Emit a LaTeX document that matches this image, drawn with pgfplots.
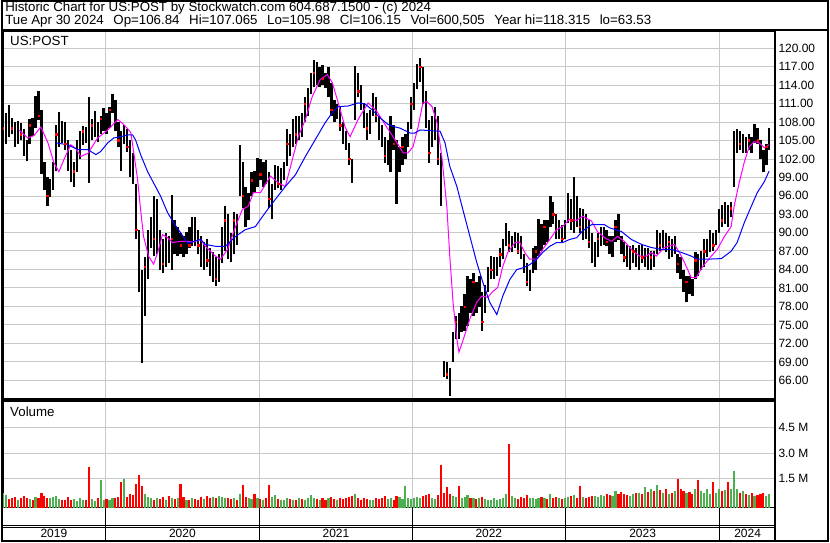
\documentclass[border=0pt]{standalone}
\usepackage{pgfplots}
\pgfplotsset{compat=1.18}
\usepackage{pgfplotstable}
\usepackage{fontspec}
\setmainfont{Liberation Sans}
\definecolor{gridgray}{RGB}{200,200,200}
\definecolor{volgreen}{RGB}{76,175,80}
\definecolor{volred}{RGB}{255,0,0}
\definecolor{maMag}{RGB}{255,0,255}
\definecolor{maBlue}{RGB}{0,0,255}

% weekly price bars: week, low, high, close
\pgfplotstableread{
w lo hi c
0 101.5 111.9 107
1 104.5 109.5 108
2 105.5 110.8 107.5
3 106 108.6 107
4 104 108 105
5 104.5 108.2 107.5
6 105 107.8 106
7 102.5 106.8 103.5
8 101.6 105 102.5
9 104.5 108.5 107.5
10 105.8 108.7 106.5
11 107 112.3 111
12 108.4 113 109
13 99.5 110 101
14 97 101.5 98
15 94.3 99 96
16 95.8 98.8 97.5
17 97 101.5 100.5
18 100 107.5 106
19 104 109.7 107
20 104.6 108.2 105.5
21 103.5 108 104.5
22 100 105 101
23 98.3 103.5 99
24 97.5 101.5 100
25 99.8 105 104
26 102 106.5 105
27 104.3 107.3 106.5
28 104.6 107.2 105.5
29 98.1 112.1 104
30 105 108.5 107.5
31 105.5 109.8 108
32 104.8 108 106
33 106 109 108.5
34 106.5 110.2 109
35 106 109.5 107.5
36 107 110.5 110
37 109.5 112.6 111.5
38 106.5 111.5 107.5
39 104 108 105
40 100 106.5 104
41 104.5 107.5 106.5
42 103.2 106.8 104
43 99 105 100.5
44 98 103 99
45 89 98 90.5
46 80.3 90.5 82
47 68.9 84 76
48 76.5 86 84.5
49 82.5 90.5 89
50 87.5 92.5 90
51 86.2 96 89
52 86.5 95.5 93
53 84 90.5 86.5
54 83.5 89 85
55 84.5 90 88.5
56 85 89.5 87
57 84 96.2 89
58 86.5 92 88
59 86.2 91 88.5
60 86.5 90 88
61 86 89.5 87.5
62 86.5 90.2 89
63 87.5 91 88
64 87.8 92.5 91
65 87.8 92.5 89
66 86.5 90.5 88
67 84.5 89.4 86
68 84 88.5 87.5
69 84.5 89 85.5
70 83 87.5 84
71 82 86.8 85.5
72 81.3 86 82.5
73 82 86.5 85
74 85 91 90
75 87 94.3 92
76 85.7 93 88
77 85.2 90 86.5
78 86.5 93.3 92
79 88 93 90.5
80 95.9 104.3 101
81 94 101.5 96
82 91 97.5 93
83 92 96.5 95.5
84 95.9 99.8 98.5
85 96.5 100 97
86 97.5 102.2 101
87 98.5 102 99.5
88 97.5 101.5 100.5
89 98 101.8 99
90 94 99.8 95.5
91 92.2 98 97
92 97 101 99.5
93 97.2 100.8 98
94 97 100.5 99.5
95 98.5 101.5 100
96 100.8 106.8 104.5
97 102.5 106 103
98 104 108.5 107
99 104.5 109 106
100 105 108.9 108
101 105.5 109.5 107.5
102 108 112 111
103 109 113.5 112.5
104 112.5 116 115
105 113.7 118 116
106 114 117.8 115
107 113.7 117 116.5
108 114 117.2 115
109 113.5 116 114.5
110 112 117 115
111 108.9 114.4 110
112 108 111.5 109
113 108.5 111 110
114 106.5 110.5 107.5
115 104.5 108 105.5
116 103.5 106.5 104.5
117 101 104.6 102
118 98.1 102 99
119 108.4 117.1 115
120 112 116 113
121 110 114 111
122 107 111.1 108
123 105.1 109.5 107
124 106 110 108.5
125 109 112.7 111
126 108 112 109
127 105 108.9 106
128 104 107.5 105
129 101.4 105.6 102.5
130 101 105 104
131 99.8 108.9 105
132 103.5 107.5 104.5
133 94.6 105.1 98
134 99.8 104 102
135 101 105.6 104
136 102 106 105
137 104 108 107
138 106.8 112 111
139 110 114.4 113.5
140 113.3 117.5 116
141 114.5 118.4 117
142 111 117 112
143 107 113 108
144 101.4 108.4 103
145 104 109 108
146 105.1 110.5 109.5
147 101 109 102
148 94.3 103 96
149 66.6 69.2 67.5
150 66.2 69 67
151 63.53 68 66.5
152 69 73.8 72
153 72.7 76.5 75.5
154 72.7 77 74
155 73.8 78.1 76
156 74 80 78
157 74.9 83 81.5
158 77 82.5 80
159 76.5 83.5 82
160 77 82 78.5
161 78 83 81
162 74 80.3 75.5
163 77 81.5 80.5
164 80.3 84.5 83.5
165 82.4 86.2 84
166 82.5 86 85
167 83 86 85.5
168 84.5 87.5 86.5
169 85.7 89 88.5
170 87.8 91.6 90
171 86.8 90.3 88
172 86.8 89.5 88.5
173 87.5 90.2 89
174 86.5 90 87
175 85.7 89.5 86.5
176 83.5 86.5 84
177 81.3 85 82
178 80.5 84 83
179 83.5 87.5 86
180 84 87.8 87
181 86.2 92.2 90.5
182 87 91.5 88
183 88 92 91
184 88.5 92 90
185 91 95.9 94
186 91.5 95 93
187 89 93 90.5
188 89 92 91
189 88.5 91.3 89
190 89 92 91
191 91.6 96.5 95
192 90.5 95.5 92
193 90 99 94
194 91 96 93.5
195 90 94 91
196 88.9 93.8 92.5
197 89 93 90
198 87.5 92 88.5
199 85 90 86
200 84.5 88.5 87
201 86 90 89
202 87.8 91 89.5
203 88 91 90
204 87.8 90.5 88.5
205 86.5 89.5 87
206 86 89.5 88
207 88.5 92 91
208 88.9 93 90
209 86.5 89.5 87
210 85.2 88.5 86
211 84.5 88 85
212 84 87.8 86.5
213 85 88 87
214 84.5 87.5 85.5
215 84 88 86.5
216 85 88 86
217 84.5 87.5 87
218 84 87.5 85
219 84 87 86
220 84.5 87 85
221 86.5 90.5 89.5
222 87 90 88
223 87.5 90.5 90
224 86.8 90 87.5
225 85.7 89.5 88.5
226 86 89 86.5
227 86.5 89.5 88
228 83.5 86.5 85
229 82.5 86 83
230 80.3 84 81
231 78.7 83 82
232 80 83 81
233 79.7 82.4 80.5
234 82.4 86.8 85.5
235 83 86.5 84
236 84 87 86.5
237 84.5 89 87
238 86 89 88
239 86.8 90.5 89.5
240 87 90 88
241 88 90.5 90
242 90 93.8 93
243 91 94.5 92
244 91.5 95 94.5
245 91 94.5 92.5
246 92.5 95 94
247 97.4 106.5 104
248 103 106.8 105
249 103.5 106.5 104.5
250 103 106 105.5
251 103 105.5 104
252 103.5 106 105
253 103 105.5 104
254 104.6 107.6 106.5
255 104.5 107 105
256 102 105 103
257 99.8 103.5 101
258 101 104.5 104
259 103.5 107.065 106.15
}\price

\pgfplotstableread{
w v
5.4 106.7
8.4 105.4
10.5 105.8
12.8 107.2
15.2 104.6
17.2 101.4
18.9 99.9
20.6 101.9
22.9 104.3
24.6 103.7
26.3 102.4
28.7 102.9
32.0 105.4
35.4 106.7
38.8 108.4
40.8 107.6
43.2 106.3
44.2 103.0
45.5 98.6
46.5 93.8
47.5 89.4
49.2 86.2
50.9 84.9
52.3 86.8
53.9 89.7
55.6 89.2
57.3 88.4
60.0 88.6
62.4 88.6
64.4 88.5
66.8 88.9
68.4 87.8
71.8 86.2
73.5 85.7
75.9 87.3
78.6 91.0
80.9 93.8
82.9 94.3
84.6 96.5
87.0 96.5
90.4 99.2
93.1 98.1
95.4 97.5
97.8 101.9
99.8 105.6
102.2 108.4
104.5 112.1
107.2 114.9
109.6 115.7
111.3 114.4
113.3 111.1
115.6 107.2
117.3 105.6
120.0 108.4
123.4 111.1
126.4 109.7
129.1 107.6
132.5 105.1
133.2 104.6
135.2 103.0
136.9 103.0
138.6 104.0
140.3 107.2
141.9 111.1
143.3 111.3
145.0 110.5
146.7 107.9
148.3 102.4
150.0 94.3
151.0 86.2
152.1 78.7
153.4 72.7
154.1 70.6
155.4 72.4
157.8 76.0
160.1 78.7
161.8 79.7
163.9 79.5
165.2 80.3
167.2 81.1
168.9 84.5
170.6 86.8
173.0 88.4
174.6 88.5
176.3 86.8
178.0 85.7
180.4 85.7
182.4 87.3
184.8 88.9
187.1 90.5
189.1 91.0
191.5 92.2
193.9 92.0
195.9 92.7
198.9 91.9
200.9 90.2
203.3 89.2
205.7 88.6
207.7 89.4
210.0 88.6
212.4 87.3
215.1 86.2
217.5 86.2
219.1 86.8
220.8 86.2
223.5 87.6
226.9 88.1
228.6 86.8
230.3 85.2
232.6 82.7
234.3 82.7
236.3 84.4
239.4 86.2
241.4 87.3
243.8 89.4
246.1 91.0
247.1 94.3
248.8 98.1
250.5 101.4
252.2 104.0
253.9 104.8
255.6 104.6
257.3 103.8
258.9 104.3
}\maShort

\pgfplotstableread{
w v
17.9 104.6
21.9 104.3
25.3 103.5
28.7 103.5
31.4 102.7
33.0 103.2
35.4 104.6
37.4 105.4
39.8 105.6
42.1 105.9
43.8 105.9
44.8 105.1
46.5 102.7
48.9 99.9
50.9 98.1
53.3 95.9
55.6 93.3
57.7 91.6
60.0 90.0
62.4 88.3
64.4 88.6
66.8 88.9
68.4 88.1
71.8 87.8
75.2 87.8
78.6 89.4
81.9 90.5
85.3 91.0
88.7 93.3
92.0 95.4
95.4 97.5
98.8 99.4
102.2 102.4
105.5 105.1
108.9 107.9
111.3 109.5
113.3 110.5
116.7 110.6
120.0 111.1
122.4 110.9
124.7 110.0
127.4 108.7
130.1 107.6
132.5 107.2
134.2 107.0
137.6 106.2
139.2 106.2
140.9 106.7
144.3 106.6
147.7 106.5
149.4 104.6
151.0 100.8
153.4 97.5
155.4 93.8
157.8 89.4
160.1 85.2
162.2 81.9
164.5 78.7
166.9 76.7
168.9 79.7
171.3 82.4
173.6 84.0
175.7 84.3
178.0 84.8
180.4 85.7
182.4 86.8
184.8 87.8
187.1 88.4
189.1 88.4
191.5 88.9
193.9 89.2
195.9 90.3
198.9 91.3
203.3 91.3
205.0 90.8
209.0 90.2
212.4 88.9
215.8 88.1
219.1 87.6
222.5 87.3
225.9 87.3
229.3 86.8
232.6 86.2
234.7 85.7
238.0 85.7
242.8 85.8
246.1 87.0
248.1 88.4
250.5 91.6
252.9 94.3
254.9 96.5
257.3 98.3
258.9 100.0
}\maLong

% weekly volume (millions) on up weeks
\pgfplotstableread{
w v
0 0.7
1 0.55
5 0.28
9 0.3
11 0.42
16 0.35
17 0.42
18 0.5
19 0.3
24 0.3
25 0.2
26 0.35
27 0.25
30 0.3
31 0.2
33 1.45
34 0.28
36 0.28
37 0.38
41 1.5
48 0.63
49 0.42
50 0.38
52 0.35
55 0.28
57 0.35
59 0.35
62 0.28
64 0.35
68 0.3
71 0.42
73 0.5
74 0.45
75 0.35
78 0.35
80 0.6
83 0.35
84 0.3
86 0.38
88 0.28
91 0.42
92 0.55
94 0.28
95 0.25
96 0.38
98 0.28
100 0.35
102 0.28
103 0.38
104 0.55
105 0.35
107 0.28
110 0.35
113 0.28
119 0.63
124 0.28
125 0.25
130 0.3
131 0.35
134 0.42
135 0.3
136 1.1
137 0.35
138 0.3
139 0.38
140 0.42
141 0.35
145 0.35
146 0.3
152 0.5
153 0.42
155 0.38
156 0.42
157 0.55
159 0.38
161 0.35
163 0.3
164 0.28
165 0.25
166 0.35
167 0.28
168 0.3
169 0.35
170 0.63
172 0.5
173 0.35
178 0.38
179 0.35
180 0.3
181 0.38
183 0.35
185 0.63
188 0.35
190 0.35
191 0.42
193 0.55
196 0.42
200 0.5
201 0.45
202 0.55
203 0.5
206 0.5
207 0.8
212 0.5
213 0.6
215 0.7
217 1.0
219 0.9
221 1.15
223 0.7
225 0.6
227 0.8
231 0.7
234 0.9
236 0.8
237 0.7
238 0.9
239 0.6
241 0.7
242 0.9
244 0.85
246 0.9
247 1.93
248 0.9
250 0.8
252 0.55
254 0.5
258 0.5
259 0.6
}\volup

% weekly volume (millions) on down weeks
\pgfplotstableread{
w v
2 0.3
3 0.35
4 0.42
6 0.38
7 0.5
8 0.35
10 0.25
12 0.35
13 0.7
14 0.52
15 0.38
20 0.28
21 0.25
22 0.42
23 0.28
28 0.28
29 2.2
32 0.35
35 0.3
38 0.35
39 0.42
40 1.3
42 0.42
43 0.63
44 0.55
45 1.2
46 1.75
47 1.1
51 0.28
53 0.3
54 0.42
56 0.5
58 0.3
60 1.2
61 0.42
63 0.25
65 0.3
66 0.28
67 0.45
69 0.52
70 0.38
72 0.35
76 0.38
77 0.3
79 0.28
81 1.15
82 0.42
85 0.63
87 0.3
89 0.35
90 1.15
93 0.3
97 0.3
99 0.25
101 0.3
106 0.3
108 0.38
109 0.25
111 0.42
112 0.3
114 0.35
115 0.3
116 0.38
117 0.42
118 0.5
120 0.38
121 0.28
122 0.35
123 0.3
126 0.35
127 0.3
128 0.38
129 0.5
132 0.28
133 0.52
142 0.5
143 0.55
144 0.63
147 0.55
148 2.33
149 0.7
150 1.0
151 0.63
154 1.1
158 0.35
160 0.3
162 0.42
171 3.54
174 0.3
175 0.42
176 0.35
177 0.55
182 0.42
184 0.3
186 0.38
187 0.45
189 0.3
192 0.5
194 0.38
195 1.1
197 0.35
198 0.45
199 0.5
204 0.6
205 0.55
208 0.6
209 0.75
210 0.6
211 0.55
214 0.65
216 0.6
218 0.75
220 0.8
222 0.85
224 0.9
226 0.7
228 1.5
229 0.9
230 0.8
232 0.75
233 0.6
235 1.45
240 1.3
243 0.8
245 1.3
249 0.7
251 0.6
253 0.65
255 0.55
256 0.6
257 0.7
}\voldown

\pgfplotsset{
  panel/.style={
    scale only axis, width=580.5pt,
    xmin=0, xmax=260.96,
    xtick={34.49,86.75,138.33,190.05,242.31},
    xticklabels={},
    major tick length=0pt,
    axis line style={black, line width=0.9pt},
    yticklabel pos=right,
    tick label style={font=\fontsize{9}{10}\selectfont, text=black},
    yticklabel style={anchor=west, xshift=-1pt},
    /pgf/number format/assume math mode=true,
  },
  bars/.style={only marks, mark=*, mark size=0pt, mark options={draw=none, fill=none}},
}

\begin{document}
\fontsize{10}{12}\selectfont
\begin{tikzpicture}
\fill[white] (0pt,0pt) rectangle (622.5pt,407.25pt);

% grid lines, centred on pixel rows/columns of the 830x543 image so that they stay crisp
\begin{scope}[x=0.75pt, y=0.75pt]
\foreach \yy in {494.5,476.5,457.5,439.5,420.5,402.5,383.5,365.5,346.5,328.5,309.5,291.5,272.5,254.5,235.5,217.5,198.5,180.5,161.5,114.5,88.5,63.5}
  {\fill[gridgray] (2,\yy-0.5) rectangle (776,\yy+0.5);}
\foreach \xx in {104.5,259.5,412.5,565.5,720.5}
  {\fill[gridgray] (\xx-0.5,143) rectangle (\xx+0.5,512); \fill[gridgray] (\xx-0.5,34) rectangle (\xx+0.5,141);}
\end{scope}

% price panel: px x 2..776, y 31..400
\begin{axis}[panel, at={(1.5pt,107.25pt)}, anchor=south west, height=276.75pt,
  ymin=62.97, ymax=122.8, ytick={66,69,...,120},
  yticklabel style={/pgf/number format/.cd, fixed, fixed zerofill, precision=2}]
\addplot[bars, error bars/.cd, y dir=plus, y explicit,
  error bar style={draw=black, line width=1.7pt}, error mark=none]
  table[x=w, y=lo, y error plus expr=\thisrow{hi}-\thisrow{lo}] {\price};
\addplot[only marks, mark=square*, mark size=0.55pt, red, mark repeat=3]
  table[x=w, y=c] {\price};
\addplot[maMag, line width=0.75pt] table[x=w, y=v] {\maShort};
\addplot[maBlue, line width=0.75pt] table[x=w, y=v] {\maLong};
\end{axis}

% volume panel: px y 402..509
\begin{axis}[panel, at={(1.5pt,25.5pt)}, anchor=south west, height=80.25pt,
  ymin=-0.193, ymax=6.05, ytick={1.5,3,4.5},
  yticklabels={1.5 M,3.0 M,4.5 M}]
\addplot[bars, error bars/.cd, y dir=minus, y explicit,
  error bar style={draw=volgreen, line width=1.6pt}, error mark=none]
  table[x=w, y=v, y error minus expr=\thisrow{v}+1] {\volup};
\addplot[bars, error bars/.cd, y dir=minus, y explicit,
  error bar style={draw=volred, line width=1.6pt}, error mark=none]
  table[x=w, y=v, y error minus expr=\thisrow{v}+1] {\voldown};
\end{axis}

% frame, header and year strip (units: pixels of the 830x543 image)
\begin{scope}[x=0.75pt, y=0.75pt]
\draw[line width=1.5pt] (0,512.5) -- (830,512.5);
\draw[line width=1.5pt] (776,0) -- (776,512.5);
\draw[line width=1.5pt] (1,1) rectangle (829,542);
\draw[line width=0.75pt] (2,16.5) -- (776,16.5);
\draw[line width=0.75pt] (2,14.5) -- (776,14.5);
\foreach \xx in {104.5,259.5,412.5,565.5,720.5} {\draw[line width=0.75pt] (\xx,2) -- (\xx,34);}
\node[anchor=base west, inner sep=0pt] at (4,531) {Historic Chart for US:POST by Stockwatch.com 604.687.1500 - (c) 2024};
\node[anchor=base west, inner sep=0pt] at (4,518) {Tue Apr 30 2024\hspace{7.2pt}Op=106.84\hspace{7.2pt}Hi=107.065\hspace{7.2pt}Lo=105.98\hspace{7.2pt}Cl=106.15\hspace{7.2pt}Vol=600,505\hspace{7.2pt}Year hi=118.315\hspace{7.2pt}lo=63.53};
\node[anchor=base west, inner sep=0pt] at (9,497) {US:POST};
\node[anchor=base west, inner sep=0pt] at (9,125) {Volume};
\foreach \xx/\yy in {53/2019,181.8/2020,335.8/2021,489/2022,643.2/2023,748.4/2024}
  {\node[anchor=base, inner sep=0pt, font=\fontsize{9}{10}\selectfont] at (\xx,4) {\yy};}
\end{scope}
\end{tikzpicture}
\end{document}
